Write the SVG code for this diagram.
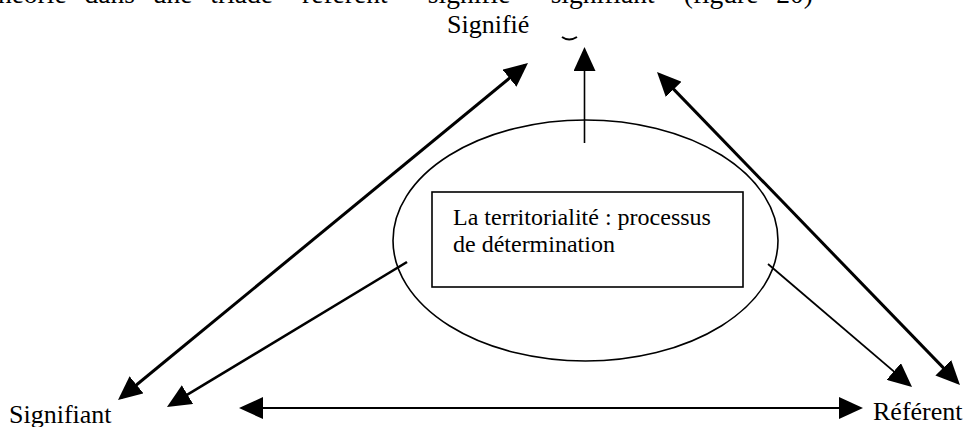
<svg xmlns="http://www.w3.org/2000/svg" width="968" height="427" viewBox="0 0 968 427">
<style>
  text { font-family: "Liberation Serif", "Times New Roman", serif; fill: #000; }
  .lbl { font-size: 26px; }
  .top { font-size: 27.5px; word-spacing: 11px; }
  .box-t { font-size: 24px; }
  .ln { stroke: #000; fill: none; }
</style>
<defs>
  <marker id="ah" viewBox="0 0 24 22" refX="20" refY="11" markerWidth="24" markerHeight="22" markerUnits="userSpaceOnUse" orient="auto-start-reverse">
    <path d="M0,0 L24,11 L0,22 z" fill="#000"/>
  </marker>
</defs>
<rect x="0" y="0" width="968" height="427" fill="#fff"/>

<text class="top" x="813" y="3" text-anchor="end">théorie dans une triade "référent" "signifié" "signifiant" (figure 20)</text>

<g id="signifie">
  <text class="lbl" x="447" y="33">Signifié</text>
  <path class="ln" d="M562,37 Q569,42 577,37" stroke-width="2"/>
</g>
<g id="signifiant">
  <text class="lbl" x="9" y="423">Signifiant</text>
</g>
<g id="referent">
  <text class="lbl" x="873" y="420">Référent</text>
</g>
<g id="territorialite">
  <ellipse class="ln" cx="585.5" cy="240.5" rx="192.5" ry="120.5" stroke-width="1.6"/>
  <rect class="ln" x="432" y="192" width="311" height="95" stroke-width="1.6"/>
  <text class="box-t" x="453" y="225">La territorialité : processus</text>
  <text class="box-t" x="453" y="252">de détermination</text>
</g>

<g id="connectors">
  <line class="ln" x1="121.1" y1="397.5" x2="524.9" y2="65.5" stroke-width="3" marker-start="url(#ah)" marker-end="url(#ah)"/>
  <line class="ln" x1="407" y1="262" x2="170.4" y2="404.9" stroke-width="2.6" marker-end="url(#ah)"/>
  <line class="ln" x1="584.5" y1="143" x2="584.5" y2="51" stroke-width="1.6" marker-end="url(#ah)"/>
  <line class="ln" x1="659.8" y1="74.9" x2="957.2" y2="382.1" stroke-width="3" marker-start="url(#ah)" marker-end="url(#ah)"/>
  <line class="ln" x1="768" y1="264" x2="909" y2="384.4" stroke-width="1.8" marker-end="url(#ah)"/>
  <line class="ln" x1="243" y1="408" x2="859" y2="408" stroke-width="2" marker-start="url(#ah)" marker-end="url(#ah)"/>
</g>
</svg>
